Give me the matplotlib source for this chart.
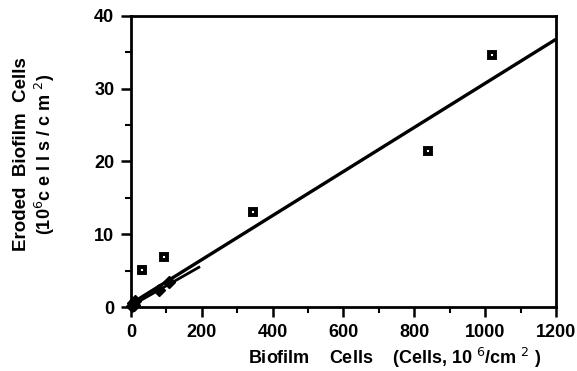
import matplotlib
matplotlib.use("Agg")
import matplotlib.pyplot as plt
import numpy as np

plt.rcParams['font.family'] = ['Liberation Sans', 'DejaVu Sans']

# open-square series
sq_x = [30, 94, 345, 839, 1018]
sq_y = [5.1, 6.9, 13.0, 21.5, 34.7]
# filled series
fill_x = [2, 5, 8, 12, 80, 108]
fill_y = [0.2, 0.5, 0.3, 0.8, 2.4, 3.4]
# regression lines (endpoints)
fit1_x = [0, 1200]
fit1_y = [0.45, 36.8]
fit2_x = [0, 195]
fit2_y = [0.15, 5.55]

fig = plt.figure(figsize=(5.77, 3.71), dpi=100)
ax = fig.add_axes([0.227, 0.1725, 0.7366, 0.7845])

ax.plot(fit1_x, fit1_y, color='black', lw=2.4, solid_capstyle='butt')
ax.plot(fit2_x, fit2_y, color='black', lw=2.0, solid_capstyle='butt')
ax.plot(sq_x, sq_y, linestyle='none', marker='s', markersize=5,
        markerfacecolor='white', markeredgecolor='black', markeredgewidth=2.8, clip_on=False)
ax.plot(fill_x, fill_y, linestyle='none', marker='D', markersize=6,
        color='black', clip_on=False)

ax.set_xlim(0, 1200)
ax.set_ylim(0, 40)
ax.set_xticks([0, 200, 400, 600, 800, 1000, 1200])
ax.set_xticks(np.arange(100, 1200, 200), minor=True)
ax.set_yticks([0, 10, 20, 30, 40])
ax.set_yticks([5, 15, 25, 35], minor=True)

for s in ax.spines.values():
    s.set_linewidth(2.0)
ax.tick_params(which='major', direction='out', length=7, width=1.8, labelsize=13, pad=5)
ax.tick_params(which='minor', direction='out', length=4, width=1.5)
for lab in ax.get_xticklabels() + ax.get_yticklabels():
    lab.set_fontweight('bold')

ax.set_xlabel('Biofilm    Cells    (Cells, 10 $^{6}$/cm $^{2}$ )', fontsize=13,
              fontweight='bold')
ax.xaxis.set_label_coords(0.62, -0.135)
fig.text(0.037, 0.585, 'Eroded  Biofilm  Cells', rotation=90, ha='center', va='center',
         fontsize=13.5, fontweight='bold')
fig.text(0.078, 0.585, '(10$^{6}$c e l l s / c m $^{2}$)', rotation=90, ha='center',
         va='center', fontsize=13, fontweight='bold')

fig.savefig('out.png', dpi=100)
